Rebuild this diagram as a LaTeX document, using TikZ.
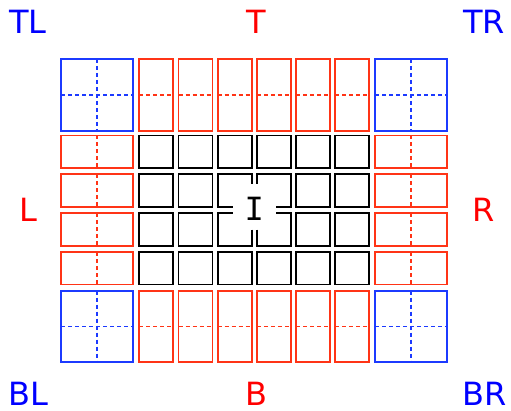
\documentclass[tikz,border=0pt]{standalone}
\usepackage{fontspec}
\setmainfont{DejaVu Sans}
\newfontfamily\cursorfont{DejaVu Sans Mono}
\usepackage{tikz}
\usetikzlibrary{positioning}

\definecolor{boxblue}{RGB}{28,58,255}
\definecolor{boxred}{RGB}{255,52,22}
\definecolor{txtblue}{RGB}{0,0,255}
\definecolor{txtred}{RGB}{255,0,0}

\tikzset{
    cell/.style={rectangle, inner sep=0pt, outer sep=0pt, line width=1.8pt},
    cornerbox/.style={cell, draw=boxblue, minimum width=72.3pt, minimum height=71.7pt},
    tallbox/.style={cell, draw=boxred, minimum width=34pt, minimum height=71.7pt},
    widebox/.style={cell, draw=boxred, minimum width=72.3pt, minimum height=32.4pt},
    gridbox/.style={cell, draw=black, minimum width=34pt, minimum height=32.4pt},
    openbox/.style={cell, minimum width=34pt, minimum height=32.4pt},
    midline/.style={line width=1.5pt, dash pattern=on 4pt off 3pt},
    sidelabel/.style={font=\fontsize{32}{32}\selectfont, inner sep=0pt}
}

\begin{document}
\begin{tikzpicture}[x=1pt, y=-1pt]
        \useasboundingbox (0,0) rectangle (511,411);

        % Ecken
        \foreach \name/\x/\y in {tl/97.15/94.85, tr/411.15/94.85, bl/97.15/326.5, br/411.15/326.5} {
            \node[cornerbox] (\name) at (\x,\y) {};
            \draw[boxblue, midline] (\name.north) -- (\name.south);
            \draw[boxblue, midline] (\name.west) -- (\name.east);
        }

        % Oben und unten
        \foreach \k in {0,...,5} {
            \node[tallbox] (t\k) at ({156.3+39.2*\k},94.85) {};
            \draw[boxred, midline] (t\k.west) -- (t\k.east);
            \node[tallbox] (b\k) at ({156.3+39.2*\k},326.5) {};
            \draw[boxred, midline] (b\k.west) -- (b\k.east);
        }

        % Links und rechts
        \foreach \r in {0,...,3} {
            \node[widebox] (l\r) at (97.15,{151.7+38.9*\r}) {};
            \draw[boxred, midline] (l\r.north) -- (l\r.south);
            \node[widebox] (r\r) at (411.15,{151.7+38.9*\r}) {};
            \draw[boxred, midline] (r\r.north) -- (r\r.south);
        }

        % Innere Zellen (die vier mittleren bleiben offen)
        \foreach \k in {0,...,5} {
            \foreach \r in {0,...,3} {
                \pgfmathtruncatemacro\inner{(\k>1)*(\k<4)*(\r>0)*(\r<3)}
                \ifnum\inner=0
                    \node[gridbox] (c\k\r) at ({156.3+39.2*\k},{151.7+38.9*\r}) {};
                \else
                    \node[openbox] (c\k\r) at ({156.3+39.2*\k},{151.7+38.9*\r}) {};
                \fi
            }
        }

        % Mitte, offen zum Cursor
        \draw[cell, black] ([yshift=-9.6pt]c21.north east) -- (c21.north east) -- (c21.north west)
            -- (c21.south west) -- ([xshift=15pt]c21.south west);
        \draw[cell, black] ([yshift=-9.6pt]c31.north west) -- (c31.north west) -- (c31.north east)
            -- (c31.south east) -- ([xshift=-15pt]c31.south east);
        \draw[cell, black] ([yshift=16pt]c22.south east) -- (c22.south east) -- (c22.south west)
            -- (c22.north west) -- ([xshift=15pt]c22.north west);
        \draw[cell, black] ([yshift=16pt]c32.south west) -- (c32.south west) -- (c32.south east)
            -- (c32.north east) -- ([xshift=-15pt]c32.north east);
        \node[sidelabel, font=\cursorfont\fontsize{32}{32}\selectfont] (cursor) at (254.3,208.7) {I};

        % Beschriftung
        \node[sidelabel, text=txtblue] (lblTL) at (28,22) {TL};
        \node[sidelabel, text=txtred] (lblT) at (256.5,22) {T};
        \node[sidelabel, text=txtblue] (lblTR) at (484,22) {TR};
        \node[sidelabel, text=txtred] (lblL) at (28.3,210.3) {L};
        \node[sidelabel, text=txtred] (lblR) at (484,210.3) {R};
        \node[sidelabel, text=txtblue] (lblBL) at (28,394) {BL};
        \node[sidelabel, text=txtred] (lblB) at (256.3,394) {B};
        \node[sidelabel, text=txtblue] (lblBR) at (484.3,394) {BR};

    \end{tikzpicture}
\end{document}
